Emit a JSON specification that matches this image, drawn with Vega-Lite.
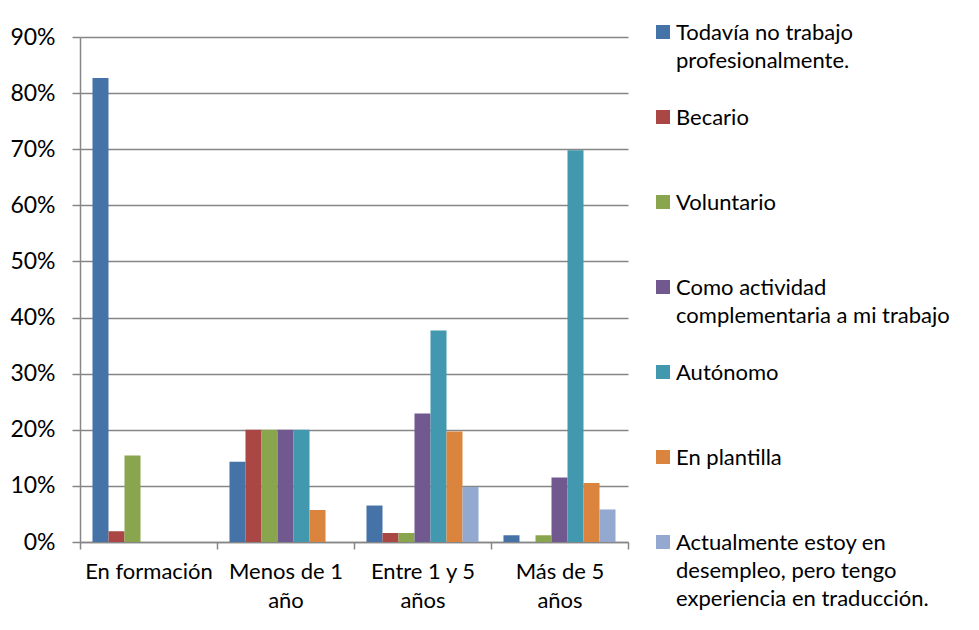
{
  "$schema": "https://vega.github.io/schema/vega-lite/v6.json",
  "autosize": {"type": "none"},
  "padding": {"left": 80, "top": 37, "right": 351, "bottom": 88},
  "width": 548,
  "height": 505,
  "background": "white",
  "config": {
    "view": {"stroke": null},
    "font": "Lato"
  },
  "data": {
    "values": [
      {"grupo": "En formación", "serie": "Todavía no trabajo profesionalmente.", "valor": 0.827},
      {"grupo": "En formación", "serie": "Becario", "valor": 0.019},
      {"grupo": "En formación", "serie": "Voluntario", "valor": 0.154},
      {"grupo": "En formación", "serie": "Como actividad complementaria a mi trabajo", "valor": 0},
      {"grupo": "En formación", "serie": "Autónomo", "valor": 0},
      {"grupo": "En formación", "serie": "En plantilla", "valor": 0},
      {"grupo": "En formación", "serie": "Actualmente estoy en desempleo, pero tengo experiencia en traducción.", "valor": 0},
      {"grupo": "Menos de 1 año", "serie": "Todavía no trabajo profesionalmente.", "valor": 0.143},
      {"grupo": "Menos de 1 año", "serie": "Becario", "valor": 0.2},
      {"grupo": "Menos de 1 año", "serie": "Voluntario", "valor": 0.2},
      {"grupo": "Menos de 1 año", "serie": "Como actividad complementaria a mi trabajo", "valor": 0.2},
      {"grupo": "Menos de 1 año", "serie": "Autónomo", "valor": 0.2},
      {"grupo": "Menos de 1 año", "serie": "En plantilla", "valor": 0.057},
      {"grupo": "Menos de 1 año", "serie": "Actualmente estoy en desempleo, pero tengo experiencia en traducción.", "valor": 0},
      {"grupo": "Entre 1 y 5 años", "serie": "Todavía no trabajo profesionalmente.", "valor": 0.065},
      {"grupo": "Entre 1 y 5 años", "serie": "Becario", "valor": 0.016},
      {"grupo": "Entre 1 y 5 años", "serie": "Voluntario", "valor": 0.016},
      {"grupo": "Entre 1 y 5 años", "serie": "Como actividad complementaria a mi trabajo", "valor": 0.229},
      {"grupo": "Entre 1 y 5 años", "serie": "Autónomo", "valor": 0.377},
      {"grupo": "Entre 1 y 5 años", "serie": "En plantilla", "valor": 0.197},
      {"grupo": "Entre 1 y 5 años", "serie": "Actualmente estoy en desempleo, pero tengo experiencia en traducción.", "valor": 0.098},
      {"grupo": "Más de 5 años", "serie": "Todavía no trabajo profesionalmente.", "valor": 0.012},
      {"grupo": "Más de 5 años", "serie": "Becario", "valor": 0},
      {"grupo": "Más de 5 años", "serie": "Voluntario", "valor": 0.012},
      {"grupo": "Más de 5 años", "serie": "Como actividad complementaria a mi trabajo", "valor": 0.115},
      {"grupo": "Más de 5 años", "serie": "Autónomo", "valor": 0.698},
      {"grupo": "Más de 5 años", "serie": "En plantilla", "valor": 0.105},
      {"grupo": "Más de 5 años", "serie": "Actualmente estoy en desempleo, pero tengo experiencia en traducción.", "valor": 0.058}
    ]
  },
  "mark": {"type": "bar"},
  "encoding": {
    "x": {
      "field": "grupo",
      "type": "nominal",
      "sort": ["En formación", "Menos de 1 año", "Entre 1 y 5 años", "Más de 5 años"],
      "scale": {"paddingInner": 0, "paddingOuter": 0},
      "axis": {
        "title": null,
        "labelAngle": 0,
        "labelFont": "Lato",
        "labelFontSize": 22,
        "labelColor": "#000000",
        "labelLineHeight": 29,
        "labelPadding": 12,
        "labelExpr": "datum.value == 'Menos de 1 año' ? ['Menos de 1', 'año'] : datum.value == 'Entre 1 y 5 años' ? ['Entre 1 y 5', 'años'] : datum.value == 'Más de 5 años' ? ['Más de 5', 'años'] : datum.value",
        "tickBand": "extent",
        "tickSize": 7,
        "tickColor": "#868686",
        "domainColor": "#868686",
        "tickWidth": 1.5,
        "domainWidth": 1.5
      }
    },
    "xOffset": {
      "field": "serie",
      "type": "nominal",
      "sort": ["Todavía no trabajo profesionalmente.", "Becario", "Voluntario", "Como actividad complementaria a mi trabajo", "Autónomo", "En plantilla", "Actualmente estoy en desempleo, pero tengo experiencia en traducción."],
      "scale": {"paddingInner": 0, "paddingOuter": 0.78}
    },
    "y": {
      "field": "valor",
      "type": "quantitative",
      "scale": {"domain": [0, 0.9], "nice": false},
      "axis": {
        "title": null,
        "values": [0, 0.1, 0.2, 0.3, 0.4, 0.5, 0.6, 0.7, 0.8, 0.9],
        "format": ".0%",
        "labelFont": "Lato",
        "labelFontSize": 23,
        "labelColor": "#000000",
        "labelPadding": 17,
        "tickSize": 8,
        "tickColor": "#868686",
        "domainColor": "#868686",
        "gridColor": "#868686",
        "tickWidth": 1.5,
        "domainWidth": 1.5,
        "gridWidth": 1.5
      }
    },
    "color": {
      "field": "serie",
      "type": "nominal",
      "sort": ["Todavía no trabajo profesionalmente.", "Becario", "Voluntario", "Como actividad complementaria a mi trabajo", "Autónomo", "En plantilla", "Actualmente estoy en desempleo, pero tengo experiencia en traducción."],
      "scale": {
        "domain": ["Todavía no trabajo profesionalmente.", "Becario", "Voluntario", "Como actividad complementaria a mi trabajo", "Autónomo", "En plantilla", "Actualmente estoy en desempleo, pero tengo experiencia en traducción."],
        "range": ["#4572A7", "#AA4643", "#89A54E", "#71588F", "#4198AF", "#DB843D", "#93A9CF"]
      },
      "legend": {
        "title": null,
        "orient": "none",
        "legendX": 572,
        "legendY": -16,
        "padding": 0,
        "symbolType": "square",
        "symbolSize": 196,
        "symbolStrokeWidth": 0,
        "labelFont": "Lato",
        "labelFontSize": 22,
        "labelColor": "#000000",
        "labelOffset": 2,
        "labelLimit": 400,
        "labelBaseline": "top",
        "gridAlign": "all",
        "rowPadding": 6,
        "labelExpr": "datum.value == 'Todavía no trabajo profesionalmente.' ? ['Todavía no trabajo', 'profesionalmente.'] : datum.value == 'Como actividad complementaria a mi trabajo' ? ['Como actividad', 'complementaria a mi trabajo'] : datum.value == 'Actualmente estoy en desempleo, pero tengo experiencia en traducción.' ? ['Actualmente estoy en', 'desempleo, pero tengo', 'experiencia en traducción.'] : datum.value",
        "encode": {
          "labels": {
            "update": {
              "lineHeight": {"value": 28},
              "dy": {"value": -9}
            }
          }
        }
      }
    }
  }
}
